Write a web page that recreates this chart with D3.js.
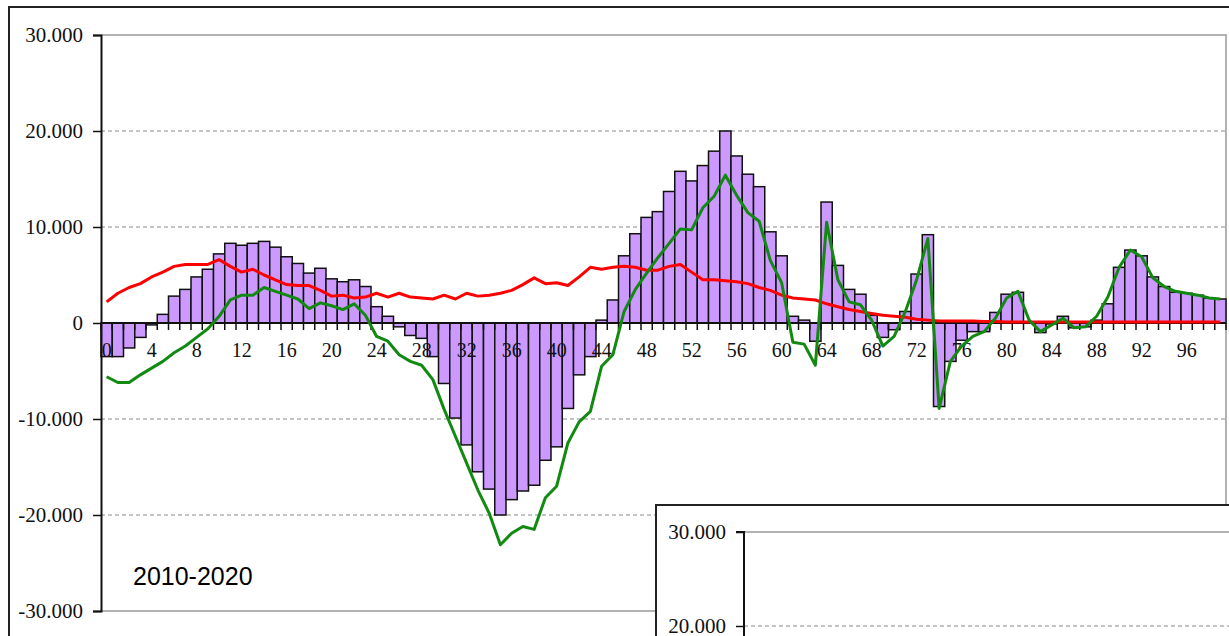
<!DOCTYPE html>
<html>
<head>
<meta charset="utf-8">
<script src="https://cdn.jsdelivr.net/npm/d3@7"></script>
<style>
  body { margin: 0; background: #fff; }
  svg { display: block; }
  .axis text { font-family: "Liberation Serif", "Times New Roman", serif; fill: #111; }
</style>
</head>
<body>
<div id="chart"></div>
<script>
// Data

var categories = d3.range(100);

var balance = [
  -3500, -3500, -2600, -1500, -200, 900, 2800, 3500, 4800, 5600,
  7200, 8300, 8100, 8300, 8500, 7900, 6900, 6200, 5200, 5700,
  4600, 4300, 4500, 3800, 1700, 700, -400, -1300, -1600, -3500,
  -6300, -9900, -12700, -15500, -17300, -20000, -18400, -17500, -16900, -14300,
  -12900, -8900, -5400, -3500, 300, 2400, 7000, 9300, 11000, 11600,
  13700, 15800, 14800, 16400, 17900, 20000, 17400, 15500, 14200, 9500,
  7000, 700, 300, -1900, 12600, 6000, 3500, 3000, 800, -1500,
  -700, 1200, 5100, 9200, -8700, -4000, -1800, -900, -900, 1100,
  3000, 3200, 100, -1000, -100, 700, -500, -400, 300, 2000,
  5800, 7600, 7000, 4800, 3800, 3200, 3100, 2900, 2600, 2500
];

var greenLine = [
  -5600, -6200, -6200, -5400, -4700, -4000, -3100, -2400, -1500, -600,
  700, 2400, 2900, 2900, 3700, 3300, 2900, 2500, 1500, 2100,
  1800, 1400, 2000, 800, -1400, -1900, -3300, -4000, -4400, -5900,
  -9000, -11800, -14600, -17400, -19800, -23100, -21900, -21200, -21500, -18200,
  -17000, -12500, -10300, -9200, -4500, -3300, 1200, 3500, 5200, 6800,
  8300, 9800, 9700, 12000, 13200, 15400, 13300, 11500, 10600, 6500,
  4200, -2000, -2200, -4400, 10500, 4500, 2200, 1900, 300, -2400,
  -1400, 1200, 4500, 8800, -8900, -4000, -2400, -1400, -900, 500,
  2600, 3300, 300, -900, -200, 500, -500, -400, 700, 2700,
  5800, 7600, 6900, 4700, 3800, 3300, 3100, 2900, 2600, 2500
];

var redLine = [
  2200, 3100, 3700, 4100, 4800, 5300, 5900, 6100, 6100, 6100,
  6600, 5900, 5300, 5600, 5000, 4500, 4000, 3900, 3900, 3400,
  2800, 2900, 2600, 2700, 3100, 2700, 3100, 2700, 2600, 2500,
  2900, 2500, 3100, 2800, 2900, 3100, 3400, 4000, 4700, 4100,
  4200, 3900, 4800, 5800, 5600, 5800, 5900, 5800, 5500, 5500,
  5900, 6100, 5300, 4500, 4500, 4400, 4300, 4100, 3700, 3400,
  2900, 2600, 2500, 2400, 2000, 1700, 1400, 1200, 1000, 800,
  700, 600, 400, 300, 200, 200, 200, 200, 150, 150,
  100, 100, 100, 100, 100, 100, 100, 100, 100, 100,
  100, 100, 100, 100, 100, 100, 100, 100, 100, 100
];

var xTicks = [0, 4, 8, 12, 16, 20, 24, 28, 32, 36, 40, 44, 48, 52, 56, 60, 64, 68, 72, 76, 80, 84, 88, 92, 96];
var yTicks = [-30000, -20000, -10000, 0, 10000, 20000, 30000];
var insetTicks = [30000, 20000];
var periodLabel = "2010-2020";

// Svg

var width = 1229;
var height = 636;
var margin = {top: 35, right: 3, bottom: 25, left: 101};

var svg = d3.select("#chart")
  .append("svg")
  .attr("width", width)
  .attr("height", height);

var fmt = d3.formatLocale({decimal: ",", thousands: ".", grouping: [3], currency: ["", ""], minus: "-"}).format(",d");

// Scales

var xScale = d3.scaleBand()
  .domain(categories)
  .range([margin.left, width - margin.right])
  .padding(0);

var yScale = d3.scaleLinear()
  .domain([-30000, 30000])
  .range([height - margin.bottom, margin.top]);

var plotRight = width - margin.right;
var insetX = 656, insetY = 505;

// outer frame
svg.append("rect")
  .attr("x", 9).attr("y", 7)
  .attr("width", 1300).attr("height", 700)
  .attr("fill", "none")
  .attr("stroke", "#222")
  .attr("stroke-width", 2);

// plot border (gray)
svg.append("path")
  .attr("d", `M${insetX},${yScale(-30000)} H${margin.left} M${margin.left},${yScale(30000)} H${plotRight} V${insetY}`)
  .attr("fill", "none")
  .attr("stroke", "#999")
  .attr("stroke-width", 1.5);

// gridlines
svg.append("g")
  .selectAll("line")
  .data([-20000, -10000, 10000, 20000])
  .enter().append("line")
  .attr("x1", margin.left)
  .attr("x2", plotRight)
  .attr("y1", d => yScale(d))
  .attr("y2", d => yScale(d))
  .attr("stroke", "#888")
  .attr("stroke-width", 1)
  .attr("stroke-dasharray", "4,3");

// Bars

svg.append("g")
  .selectAll("rect")
  .data(categories)
  .enter().append("rect")
  .attr("x", d => xScale(d))
  .attr("y", d => yScale(Math.max(0, balance[d])))
  .attr("width", xScale.bandwidth())
  .attr("height", d => Math.abs(yScale(balance[d]) - yScale(0)))
  .attr("fill", "#cc99ff")
  .attr("stroke", "#111")
  .attr("stroke-width", 1.5);

// X axis at zero

var xAxis = svg.append("g")
  .attr("class", "axis")
  .attr("transform", `translate(0, ${yScale(0)})`);

xAxis.append("line")
  .attr("x1", margin.left).attr("x2", plotRight)
  .attr("stroke", "#111").attr("stroke-width", 2);

xAxis.selectAll(".tick")
  .data(d3.range(categories.length + 1))
  .enter().append("line")
  .attr("x1", i => margin.left + i * xScale.step())
  .attr("x2", i => margin.left + i * xScale.step())
  .attr("y1", 0).attr("y2", 7)
  .attr("stroke", "#111").attr("stroke-width", 1.5);

xAxis.selectAll("text")
  .data(xTicks)
  .enter().append("text")
  .attr("x", d => xScale(d) + xScale.bandwidth() / 2)
  .attr("y", 34)
  .attr("text-anchor", "middle")
  .attr("font-size", "20px")
  .text(d => d);

// Lines

var line = function(values) {
  return d3.line()
    .x((d, i) => xScale(categories[i]) + xScale.bandwidth() / 2)
    .y(d => yScale(d))(values);
};

svg.append("path")
  .attr("d", line(redLine))
  .attr("fill", "none")
  .attr("stroke", "#ff0000")
  .attr("stroke-width", 3)
  .attr("stroke-linejoin", "round");

svg.append("path")
  .attr("d", line(greenLine))
  .attr("fill", "none")
  .attr("stroke", "#128a12")
  .attr("stroke-width", 3)
  .attr("stroke-linejoin", "round");

// Y axis

var yAxis = svg.append("g")
  .attr("class", "axis")
  .attr("transform", `translate(${margin.left}, 0)`)
  .call(d3.axisLeft(yScale).tickValues(yTicks).tickFormat(fmt).tickSize(8).tickPadding(10));

yAxis.select(".domain").attr("stroke", "#111").attr("stroke-width", 2);
yAxis.selectAll(".tick line").attr("stroke", "#111").attr("stroke-width", 1.5);
yAxis.selectAll("text").attr("font-size", "21px").attr("fill", "#111");

svg.append("text")
  .attr("x", 133)
  .attr("y", 585)
  .attr("font-family", "'Liberation Sans', Arial, sans-serif")
  .attr("font-size", "25px")
  .attr("fill", "#000")
  .text(periodLabel);

// Inset chart (partly visible)

var inset = svg.append("g");

inset.append("rect")
  .attr("x", insetX).attr("y", insetY)
  .attr("width", 700).attr("height", 300)
  .attr("fill", "#fff")
  .attr("stroke", "#222")
  .attr("stroke-width", 2);

var insetScale = d3.scaleLinear()
  .domain([20000, 30000])
  .range([626, 532]);

inset.append("line")
  .attr("x1", 744).attr("x2", width)
  .attr("y1", insetScale(30000)).attr("y2", insetScale(30000))
  .attr("stroke", "#999").attr("stroke-width", 1.5);

inset.append("line")
  .attr("x1", 744).attr("x2", width)
  .attr("y1", insetScale(20000)).attr("y2", insetScale(20000))
  .attr("stroke", "#888").attr("stroke-dasharray", "4,3");

var insetAxis = inset.append("g")
  .attr("class", "axis")
  .attr("transform", "translate(744, 0)")
  .call(d3.axisLeft(insetScale).tickValues(insetTicks).tickFormat(fmt).tickSize(8).tickPadding(10));

insetAxis.select(".domain").attr("d", `M-8,532H0V${height + 10}`).attr("stroke", "#111").attr("stroke-width", 2);
insetAxis.selectAll(".tick line").attr("stroke", "#111").attr("stroke-width", 1.5);
insetAxis.selectAll("text").attr("font-size", "21px").attr("fill", "#111");
</script>
</body>
</html>
